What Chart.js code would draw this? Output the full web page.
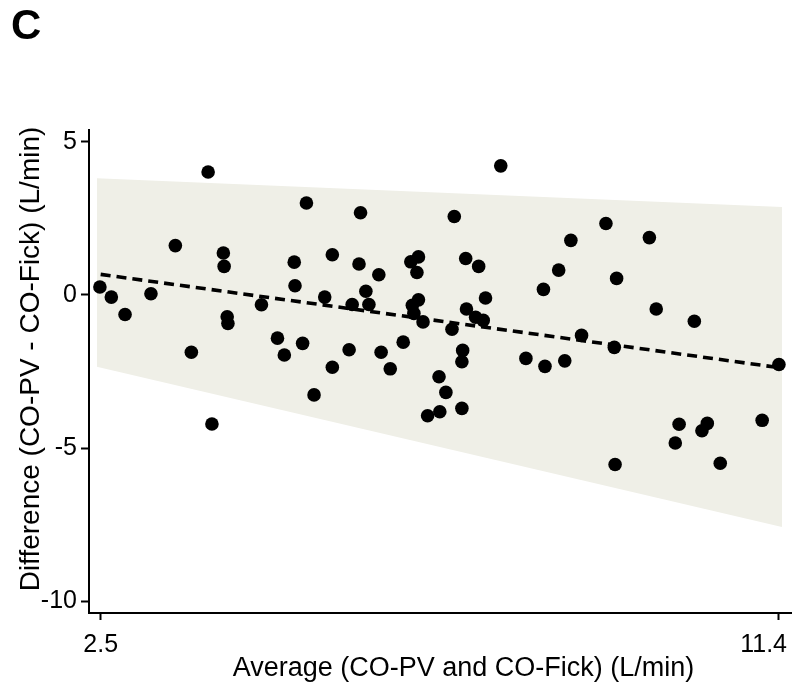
<!DOCTYPE html>
<html>
<head>
<meta charset="utf-8">
<script src="https://cdn.jsdelivr.net/npm/chart.js@4.4.1/dist/chart.umd.min.js"></script>
<style>
  html, body { margin: 0; padding: 0; background: #ffffff; }
  #wrap { position: relative; width: 798px; height: 684px; }
  #panel { position: absolute; left: 11px; top: 4px; font: bold 42px "Liberation Sans", Arial, sans-serif; line-height: 1; color: #000; }
  canvas { position: absolute; left: 0; top: 0; }
</style>
</head>
<body>
<div id="wrap">
  <canvas id="c" width="798" height="684"></canvas>
  <div id="panel">C</div>
</div>
<script>
const panelLabel = 'C';
const xTitle = 'Average (CO-PV and CO-Fick) (L/min)';
const yTitle = 'Difference (CO-PV - CO-Fick) (L/min)';
const xTicks = [2.5, 11.4];
const yTicks = [-10, -5, 0, 5];

// Bland-Altman points: average (x) and difference (y)
const avgValues = [
  2.49, 2.64, 2.82, 3.16, 3.48, 3.69, 3.91, 3.96, 4.11, 4.12,
  4.16, 4.17, 4.61, 4.82, 4.91, 5.04, 5.05, 5.15, 5.20, 5.30,
  5.44, 5.54, 5.54, 5.76, 5.80, 5.89, 5.91, 5.98, 6.02, 6.15,
  6.18, 6.30, 6.47, 6.57, 6.67, 6.65, 6.67, 6.59, 6.61, 6.73,
  6.79, 6.94, 6.95, 7.03, 7.11, 7.14, 7.24, 7.25, 7.24, 7.29,
  7.30, 7.42, 7.46, 7.52, 7.55, 7.75, 8.08, 8.31, 8.33, 8.51,
  8.59, 8.67, 8.81, 9.13, 9.24, 9.25, 9.27, 9.70, 9.79, 10.04,
  10.09, 10.29, 10.39, 10.46, 10.63, 11.18, 11.40
];
const diffValues = [
  0.26, -0.07, -0.64, 0.04, 1.61, -1.87, 4.01, -4.21, 1.37, 0.93,
  -0.71, -0.93, -0.32, -1.41, -1.96, 1.07, 0.30, -1.58, 3.00, -3.26,
  -0.07, 1.31, -2.36, -1.79, -0.31, 1.01, 2.68, 0.12, -0.31, 0.66,
  -1.87, -2.41, -1.54, 1.08, 1.24, 0.73, -0.16, -0.34, -0.60, -0.88,
  -3.94, -2.67, -3.81, -3.18, -1.12, 2.56, -3.70, -1.81, -2.18, 1.19,
  -0.46, -0.73, 0.93, -0.83, -0.10, 4.21, -2.07, 0.18, -2.33, 0.81,
  -2.15, 1.78, -1.32, 2.33, -1.71, -5.53, 0.54, 1.87, -0.46, -4.83,
  -4.22, -0.86, -4.43, -4.19, -5.49, -4.09, -2.27
];

// Limits-of-agreement band and regression (bias) line
const bandX = [2.45, 11.44];
const bandUpper = [3.81, 2.87];
const bandLower = [-2.34, -7.57];
const regX = [2.5, 11.4];
const regY = [0.67, -2.37];

document.getElementById('panel').textContent = panelLabel;

const FONT = '"Liberation Sans", Arial, Helvetica, sans-serif';

const titlesPlugin = {
  id: 'axisTitles',
  afterDraw(chart) {
    const ctx = chart.ctx;
    const xs = chart.scales.x;
    ctx.save();
    ctx.fillStyle = '#000';
    ctx.textBaseline = 'alphabetic';
    // x tick labels (kept inside the figure's right edge)
    ctx.font = '25px ' + FONT;
    ctx.textAlign = 'center';
    const maxRight = chart.width - 11;
    xTicks.forEach(v => {
      const label = String(v);
      const w = ctx.measureText(label).width;
      let cx = xs.getPixelForValue(v);
      if (cx + w / 2 > maxRight) cx = maxRight - w / 2;
      ctx.fillText(label, cx, 652);
    });
    // axis titles
    ctx.font = '27px ' + FONT;
    ctx.fillText(xTitle, 463.5, 676);
    ctx.font = '28px ' + FONT;
    ctx.translate(39, 359);
    ctx.rotate(-Math.PI / 2);
    ctx.fillText(yTitle, 0, 0);
    ctx.restore();
  }
};

const pts = avgValues.map((x, i) => ({ x: x, y: diffValues[i] }));
const upper = bandX.map((x, i) => ({ x: x, y: bandUpper[i] }));
const lower = bandX.map((x, i) => ({ x: x, y: bandLower[i] }));
const reg = regX.map((x, i) => ({ x: x, y: regY[i] }));

new Chart(document.getElementById('c'), {
  type: 'line',
  data: {
    datasets: [
      { label: 'upper', data: upper, borderWidth: 0, borderColor: 'rgba(0,0,0,0)', pointRadius: 0, fill: false, order: 3 },
      { label: 'lower', data: lower, borderWidth: 0, borderColor: 'rgba(0,0,0,0)', pointRadius: 0, fill: '-1', backgroundColor: '#efefe7', order: 2 },
      { label: 'bias', data: reg, borderColor: '#000', borderWidth: 3.6, borderDash: [10, 6], borderCapStyle: 'butt', pointRadius: 0, fill: false, order: 1 },
      { label: 'points', data: pts, showLine: false, pointRadius: 6.8, pointHoverRadius: 6.8, pointBackgroundColor: '#000', pointBorderWidth: 0, backgroundColor: '#000', borderColor: '#000', fill: false, order: 0 }
    ]
  },
  options: {
    responsive: false,
    animation: false,
    devicePixelRatio: 1,
    layout: { padding: { top: 130, right: 6, left: 0, bottom: 0 } },
    plugins: { legend: { display: false }, tooltip: { enabled: false }, title: { display: false } },
    scales: {
      x: {
        type: 'linear',
        min: 2.347, max: 11.561,
        afterBuildTicks: (s) => { s.ticks = xTicks.map(v => ({ value: v })); },
        afterFit: (s) => { s.height = 71; s.paddingLeft = 0; s.paddingRight = 0; },
        ticks: { display: false },
        grid: { display: true, drawOnChartArea: false, drawTicks: true, tickLength: 7, tickWidth: 2, tickColor: '#000' },
        border: { display: true, color: '#000', width: 2 },
        title: { display: false }
      },
      y: {
        type: 'linear',
        min: -10.375, max: 5.38,
        afterBuildTicks: (s) => { s.ticks = yTicks.map(v => ({ value: v })); },
        afterFit: (s) => { s.width = 89; s.paddingTop = 0; s.paddingBottom = 0; },
        ticks: { color: '#000', font: { family: FONT, size: 25 }, padding: 4, autoSkip: false, callback: (v) => String(v) },
        grid: { display: true, drawOnChartArea: false, drawTicks: true, tickLength: 8, tickWidth: 2, tickColor: '#000' },
        border: { display: true, color: '#000', width: 2 },
        title: { display: false }
      }
    }
  },
  plugins: [titlesPlugin]
});
</script>
</body>
</html>
